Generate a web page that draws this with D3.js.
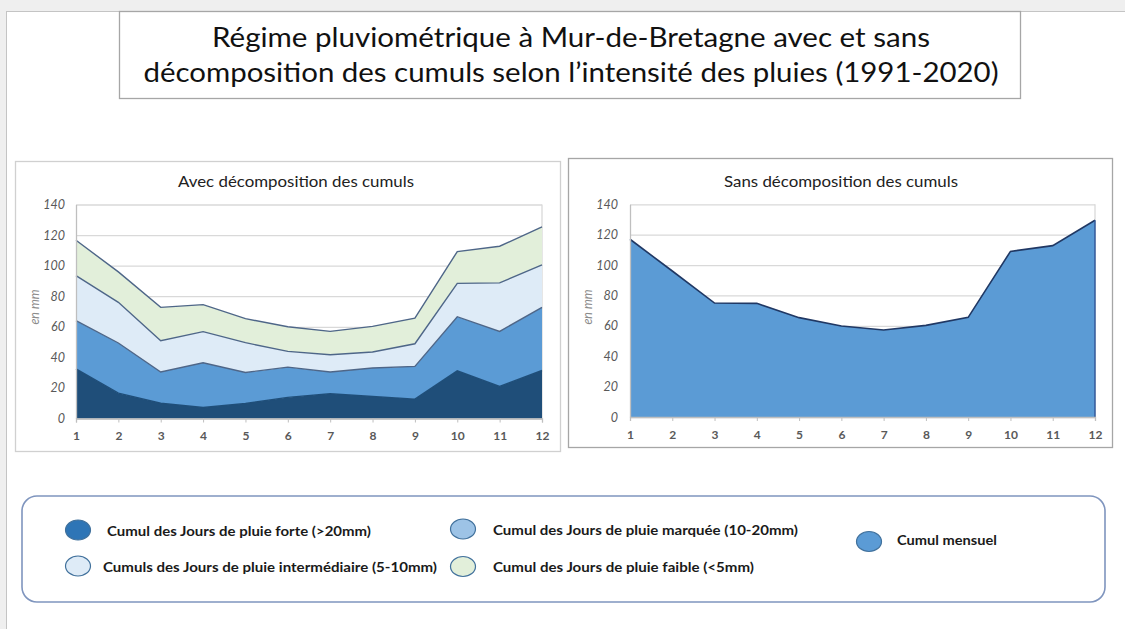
<!DOCTYPE html>
<html>
<head>
<meta charset="utf-8">
<script src="https://cdn.jsdelivr.net/npm/d3@7"></script>
<style>
  body { margin: 0; background: #ffffff; }
  svg { display: block; font-family: Lato, "Open Sans", sans-serif; }
</style>
</head>
<body>
<svg id="page" width="1125" height="629"></svg>
<script>
var months = [1, 2, 3, 4, 5, 6, 7, 8, 9, 10, 11, 12];
var pluieForte = [32.5, 16.6, 10, 7.2, 9.8, 13.8, 16.2, 14.4, 12.7, 31.2, 21, 31.4];
var pluieMarquee = [31.5, 32.8, 20.4, 29.3, 20.3, 19.8, 14.2, 18.6, 21.4, 35.4, 36, 41.3];
var pluieIntermediaire = [29.5, 26.6, 20.5, 20.3, 19.5, 10.3, 11.3, 10.5, 14.8, 21.8, 31.7, 27.8];
var pluieFaible = [23.1, 19.9, 21.8, 17.7, 15.7, 16.1, 15.3, 16.8, 16.8, 20.8, 24, 24.9];
var cumulMensuel = [117, 96.1, 75, 74.8, 65.4, 59.9, 57.3, 60.3, 65.6, 109, 112.8, 129.5];
var yTicks = [0, 20, 40, 60, 80, 100, 120, 140];
var layerKeys = ["forte", "marquee", "intermediaire", "faible"];
var layerColors = ["#1f4e79", "#5b9bd5", "#deebf7", "#e2efda"];

var legendItems = [
    {label: "Cumul des Jours de pluie forte (>20mm)", fill: "#2e75b6", cx: 78, cy: 530, tx: 107, ty: 535.5, tw: 264},
    {label: "Cumul des Jours de pluie marquée (10-20mm)", fill: "#9dc3e6", cx: 463, cy: 529, tx: 493, ty: 534.5, tw: 305},
    {label: "Cumul mensuel", fill: "#5b9bd5", cx: 869, cy: 541.5, tx: 897, ty: 545, tw: 100},
    {label: "Cumuls des Jours de pluie intermédiaire (5-10mm)", fill: "#deebf7", cx: 78, cy: 566, tx: 103, ty: 572, tw: 334},
    {label: "Cumul des Jours de pluie faible (<5mm)", fill: "#e2efda", cx: 463, cy: 566.5, tx: 493, ty: 572, tw: 261}
];

var svg = d3.select("#page");

// fond de la diapositive
svg.append("rect").attr("x", 0).attr("y", 0).attr("width", 1125).attr("height", 629).attr("fill", "#efefef");
svg.append("rect").attr("x", 6.5).attr("y", 11.5).attr("width", 1130).attr("height", 630)
    .attr("fill", "#ffffff").attr("stroke", "#c4c4c4");

// titre
svg.append("rect").attr("x", 119.5).attr("y", 11.5).attr("width", 901).attr("height", 87)
    .attr("fill", "#ffffff").attr("stroke", "#a6a6a6").attr("stroke-width", 1.3);
var titleLines = [
    {text: "Régime pluviométrique à Mur-de-Bretagne avec et sans", y: 47, w: 718},
    {text: "décomposition des cumuls selon l’intensité des pluies (1991-2020)", y: 82, w: 855}
];
svg.selectAll("text.title").data(titleLines).enter().append("text")
    .attr("class", "title")
    .attr("x", 571).attr("y", function(d) { return d.y; })
    .attr("text-anchor", "middle")
    .attr("font-size", "27px")
    .attr("fill", "#111")
    .attr("textLength", function(d) { return d.w; })
    .attr("lengthAdjust", "spacingAndGlyphs")
    .text(function(d) { return d.text; });

function draw_panel(box, title, plot) {
    "use strict";
    svg.append("rect").attr("x", box.x).attr("y", box.y).attr("width", box.w).attr("height", box.h)
        .attr("fill", "#ffffff").attr("stroke", box.stroke).attr("stroke-width", 1.3);
    svg.append("text").attr("x", title.cx).attr("y", 187)
        .attr("text-anchor", "middle").attr("font-size", "16px").attr("fill", "#222")
        .attr("textLength", title.w).attr("lengthAdjust", "spacingAndGlyphs")
        .text(title.text);

    var x = d3.scalePoint().domain(months).range([plot.left, plot.right]);
    var y = d3.scaleLinear().domain([0, 140]).range([plot.bottom, plot.top]);

    // grille
    var grid = svg.append("g").attr("transform", "translate(" + plot.left + ",0)")
        .call(d3.axisLeft(y).tickValues(yTicks).tickSize(-(plot.right - plot.left)).tickFormat(""));
    grid.select(".domain").remove();
    grid.selectAll("line").attr("stroke", "#d9d9d9").attr("stroke-width", 1.3);
    svg.append("line").attr("x1", plot.right).attr("x2", plot.right)
        .attr("y1", plot.top).attr("y2", plot.bottom).attr("stroke", "#d9d9d9").attr("stroke-width", 1.3);

    var layer = svg.append("g");

    var yAxis = svg.append("g").attr("transform", "translate(" + plot.left + ",0)")
        .call(d3.axisLeft(y).tickValues(yTicks).tickSize(0).tickPadding(plot.ypad));
    yAxis.select(".domain").attr("stroke", "#bfbfbf").attr("stroke-width", 1.3);
    yAxis.selectAll("text").attr("font-size", "12.5px").attr("font-style", "italic")
        .attr("fill", "#595959").attr("font-family", "Lato, sans-serif");

    var xAxis = svg.append("g").attr("transform", "translate(0," + plot.bottom + ")")
        .call(d3.axisBottom(x).tickSize(4).tickPadding(9));
    xAxis.select(".domain").attr("stroke", "#bfbfbf").attr("stroke-width", 1.3);
    xAxis.selectAll("line").attr("stroke", "#bfbfbf");
    xAxis.selectAll("text").attr("font-size", "12px").attr("font-weight", "bold")
        .attr("fill", "#595959").attr("font-family", "Lato, sans-serif");

    svg.append("text")
        .attr("transform", "translate(" + plot.unitX + ",307) rotate(-90)")
        .attr("text-anchor", "middle").attr("font-size", "12.5px").attr("font-style", "italic")
        .attr("fill", "#8c8c8c").text("en mm");

    return {x: x, y: y, layer: layer};
}

// graphique avec décomposition
var left = draw_panel({x: 15.5, y: 161.5, w: 545, h: 290, stroke: "#d0d0d0"},
    {text: "Avec décomposition des cumuls", cx: 296, w: 236},
    {left: 76, right: 542, top: 204.5, bottom: 418.5, ypad: 11, unitX: 39});

var rows = months.map(function(m, i) {
    return {month: m, forte: pluieForte[i], marquee: pluieMarquee[i],
            intermediaire: pluieIntermediaire[i], faible: pluieFaible[i]};
});
var stacked = d3.stack().keys(layerKeys)(rows);
var areaL = d3.area()
    .x(function(d) { return left.x(d.data.month); })
    .y0(function(d) { return left.y(d[0]); })
    .y1(function(d) { return left.y(d[1]); });
var lineL = d3.line()
    .x(function(d) { return left.x(d.data.month); })
    .y(function(d) { return left.y(d[1]); });

left.layer.selectAll("path.area").data(stacked).enter().append("path")
    .attr("class", "area")
    .attr("fill", function(d, i) { return layerColors[i]; })
    .attr("d", areaL);
left.layer.selectAll("path.edge").data(stacked).enter().append("path")
    .attr("class", "edge")
    .attr("fill", "none")
    .attr("stroke", function(d, i) { return i === 0 ? "#1f4e79" : "#4e6688"; })
    .attr("stroke-width", 1.4)
    .attr("d", lineL);

// graphique sans décomposition
var right = draw_panel({x: 568.5, y: 158.5, w: 544, h: 289, stroke: "#a6a6a6"},
    {text: "Sans décomposition des cumuls", cx: 841, w: 234},
    {left: 630, right: 1095, top: 204.3, bottom: 417, ypad: 12, unitX: 592});

var areaR = d3.area()
    .x(function(d, i) { return right.x(months[i]); })
    .y0(right.y(0))
    .y1(function(d) { return right.y(d); });
var lineR = d3.line()
    .x(function(d, i) { return right.x(months[i]); })
    .y(function(d) { return right.y(d); });
right.layer.append("path").datum(cumulMensuel)
    .attr("fill", "#5b9bd5").attr("d", areaR);
right.layer.append("path").datum(cumulMensuel)
    .attr("fill", "none").attr("stroke", "#203864").attr("stroke-width", 1.6).attr("d", lineR);
right.layer.append("line")
    .attr("x1", right.x(12)).attr("x2", right.x(12))
    .attr("y1", right.y(cumulMensuel[11])).attr("y2", right.y(0))
    .attr("stroke", "#2f5597").attr("stroke-width", 1.4);

// légende
svg.append("rect").attr("x", 22).attr("y", 496).attr("width", 1083).attr("height", 106)
    .attr("rx", 15).attr("ry", 15)
    .attr("fill", "#ffffff").attr("stroke", "#7f95be").attr("stroke-width", 1.6);

var leg = svg.selectAll("g.leg").data(legendItems).enter().append("g").attr("class", "leg");
leg.append("ellipse")
    .attr("cx", function(d) { return d.cx; }).attr("cy", function(d) { return d.cy; })
    .attr("rx", 12.5).attr("ry", 10)
    .attr("fill", function(d) { return d.fill; })
    .attr("stroke", "#41719c").attr("stroke-width", 1.2);
leg.append("text")
    .attr("x", function(d) { return d.tx; }).attr("y", function(d) { return d.ty; })
    .attr("font-size", "14px").attr("font-weight", "bold").attr("fill", "#1a1a1a")
    .attr("textLength", function(d) { return d.tw; })
    .attr("lengthAdjust", "spacingAndGlyphs")
    .text(function(d) { return d.label; });
</script>
</body>
</html>
